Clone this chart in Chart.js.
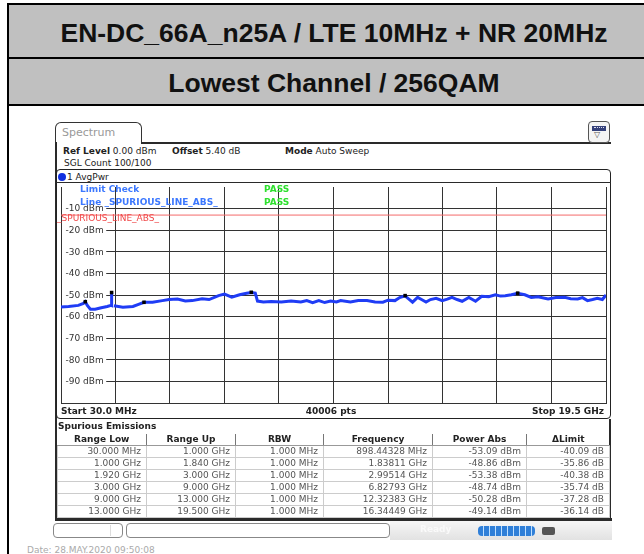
<!DOCTYPE html>
<html>
<head>
<meta charset="utf-8">
<script src="https://cdn.jsdelivr.net/npm/chart.js@4"></script>
<style>
  body { margin: 0; width: 644px; height: 554px; overflow: hidden; background: #fff; position: relative; font-family: "DejaVu Sans", sans-serif; }
  .a { position: absolute; white-space: nowrap; }
  .t9 { font-size: 9px; line-height: 11px; height: 11px; color: #222; }
  .b { font-weight: bold; }
  .band { left: 9px; width: 650px; background: #c0c0c0; text-align: center; font: bold 26.5px "Liberation Sans", Arial, sans-serif; color: #111; }
  .blk { background: #000; }
  .dk { background: #2a2a2a; }
  #plotFrame { left: 56px; top: 169px; width: 555px; height: 250px; box-sizing: border-box; border: 1.5px solid #222; border-radius: 4px; }
  #tab { left: 55px; top: 122px; width: 87px; height: 21px; box-sizing: border-box; border: 1.5px solid #333; border-bottom: none; border-radius: 6px 6px 0 0; font-size: 11px; line-height: 20px; color: #999; padding-left: 6px; }
  #icon { left: 588px; top: 121px; width: 22px; height: 22px; box-sizing: border-box; border: 1px solid #555; border-radius: 4px; background: #f4f4f4; }
  #chartBox { left: 57px; top: 183px; width: 553px; height: 224px; }
  table { position: absolute; left: 57px; top: 434px; width: 552px; border-collapse: collapse; table-layout: fixed; font-size: 9px; }
  th { height: 11px; padding: 0; line-height: 11px; color: #222; border-left: 1px solid #777; border-bottom: 1px solid #999; }
  th:first-child { border-left: none; }
  td { height: 11px; padding: 0 5px 0 0; line-height: 11px; text-align: right; color: #555; border: 1px solid #ccc; }
  .box { border: 1px solid #888; border-radius: 4px; background: #fff; box-sizing: border-box; }
</style>
</head>
<body>
<!-- report table frame -->
<div class="a blk" style="left:7px;top:3px;width:660px;height:2px"></div>
<div class="a blk" style="left:7px;top:3px;width:2px;height:551px"></div>
<div class="a band" style="top:5px;height:52px;line-height:56px">EN-DC_66A_n25A / LTE 10MHz + NR 20MHz</div>
<div class="a blk" style="left:9px;top:57px;width:660px;height:2px"></div>
<div class="a band" style="top:59px;height:45px;line-height:48px">Lowest Channel / 256QAM</div>
<div class="a blk" style="left:9px;top:104px;width:660px;height:2px"></div>

<!-- analyzer window -->
<div class="a" id="tab">Spectrum</div>
<div class="a dk" style="left:141px;top:142px;width:470px;height:1.5px"></div>
<div class="a dk" style="left:55px;top:142px;width:1.5px;height:378px"></div>
<div class="a" id="icon">
  <div class="a" style="left:3px;top:4px;width:14px;height:5px;background:#34407a"></div>
  <div class="a" style="left:5px;top:5px;width:10px;height:1px;border-top:1px dotted #dde"></div>
  <div class="a" style="left:5px;top:8px;font-size:8px;line-height:9px;color:#555">▽</div>
</div>
<div class="a t9" style="left:63px;top:146px"><span class="b">Ref Level</span> 0.00 dBm</div>
<div class="a t9" style="left:172px;top:146px"><span class="b">Offset</span> 5.40 dB</div>
<div class="a t9" style="left:285px;top:146px"><span class="b">Mode</span> Auto Sweep</div>
<div class="a t9" style="left:64px;top:158px">SGL Count 100/100</div>

<div class="a" id="plotFrame"></div>
<div class="a" style="left:58px;top:173px;width:8px;height:8px;border-radius:50%;background:#1030e0"></div>
<div class="a t9" style="left:67px;top:171.5px">1 AvgPwr</div>
<div class="a dk" style="left:56px;top:182px;width:555px;height:1px"></div>

<div class="a" id="chartBox"><canvas id="spec" width="553" height="224"></canvas></div>

<div class="a t9 b" style="left:80px;top:184px;color:#3c78ff">Limit Check</div>
<div class="a t9 b" style="left:80px;top:196.5px;color:#3c78ff">Line _SPURIOUS_LINE_ABS_</div>
<div class="a t9 b" style="left:264px;top:184px;color:#2ee02e">PASS</div>
<div class="a t9 b" style="left:264px;top:196.5px;color:#2ee02e">PASS</div>
<div class="a t9" style="left:57px;top:213px;color:#f04848">_SPURIOUS_LINE_ABS_</div>

<div class="a t9 b" style="left:61px;top:406px">Start 30.0 MHz</div>
<div class="a t9 b" style="left:231px;top:406px;width:200px;text-align:center">40006 pts</div>
<div class="a t9 b" style="left:404px;top:406px;width:200px;text-align:right">Stop 19.5 GHz</div>

<!-- spurious emissions table -->
<div class="a t9 b" style="left:58px;top:421px">Spurious Emissions</div>
<div class="a dk" style="left:55px;top:419px;width:2px;height:102px"></div>
<div class="a dk" style="left:609px;top:419px;width:1.5px;height:102px"></div>
<table id="tbl"></table>
<div class="a dk" style="left:55px;top:518px;width:557px;height:3px"></div>

<!-- status bar -->
<div class="a" style="left:390px;top:521px;width:222px;height:19px;background:linear-gradient(#f6f6f6,#e2e2e2)"></div>
<div class="a box" style="left:53px;top:523px;width:70px;height:15px"></div>
<div class="a" style="left:110px;top:525px;width:1px;height:11px;background:#ddd"></div>
<div class="a box" style="left:126px;top:523px;width:264px;height:15px"></div>
<div class="a t9 b" style="left:420px;top:524px;color:#fafafa">Ready</div>
<div class="a" style="left:478px;top:526px;width:57px;height:10px;border-radius:4px;background:repeating-linear-gradient(90deg,#2f7fd8 0 5px,#bfe0ff 5px 6px)"></div>
<div class="a" style="left:542px;top:527px;width:13px;height:8px;background:#555;border-radius:2px"></div>
<div class="a t9" style="left:27px;top:545px;color:#aaa">Date: 28.MAY.2020 09:50:08</div>

<script>
// sweep limits (GHz) and the y grid (dBm)
const startFreq = 0.03;
const stopFreq = 19.5;
const yTicks = [-90, -80, -70, -60, -50, -40, -30, -20, -10];
const limitLevel = -13;

// AvgPwr trace (GHz / dBm), null = excluded band 1.84-1.92 GHz
const traceFreq = [0.03, 0.30, 0.65, 0.83, 0.898, 0.97, 1.08, 1.25, 1.47, 1.68, 1.82, 1.838, 1.84, 1.88,
  1.92, 2.24, 2.60, 2.80, 2.995, 3.30, 3.65, 3.89, 4.19, 4.47, 4.72, 5.07, 5.32, 5.66, 5.87, 6.13, 6.41,
  6.66, 6.828, 6.97, 7.05, 7.26, 7.54, 7.90, 8.25, 8.60, 8.81, 9.02, 9.24, 9.45, 9.66, 9.87, 10.02, 10.37,
  10.65, 10.96, 11.25, 11.53, 11.71, 11.96, 12.13, 12.32, 12.48, 12.59, 12.77, 12.91, 13.07, 13.23, 13.43,
  13.65, 13.83, 14.00, 14.18, 14.36, 14.60, 14.84, 15.06, 15.31, 15.55, 15.73, 15.90, 16.12, 16.34, 16.60,
  16.83, 17.07, 17.43, 17.71, 18.02, 18.24, 18.49, 18.66, 18.84, 19.02, 19.19, 19.37, 19.50];
const traceLevel = [-55.6, -55.3, -54.8, -53.9, -53.1, -54.8, -56.6, -56.6, -55.9, -55.3, -54.8, -48.9, -54.9, null,
  -55.0, -55.7, -55.3, -54.3, -53.4, -53.4, -52.6, -52.1, -51.9, -52.8, -52.6, -51.7, -52.1, -50.3, -49.6, -51.0, -49.9,
  -49.2, -48.8, -49.1, -52.8, -53.2, -53.0, -53.2, -52.8, -53.2, -52.6, -53.5, -52.6, -53.5, -52.8, -53.2, -52.6, -53.2,
  -52.6, -52.6, -53.2, -53.3, -52.4, -52.6, -51.2, -50.4, -52.1, -53.3, -51.1, -52.1, -53.3, -52.1, -51.5,
  -52.6, -51.9, -51.1, -52.1, -52.9, -51.1, -52.9, -50.6, -50.8, -49.9, -50.5, -50.3, -49.9, -49.2, -49.9,
  -51.1, -50.8, -51.8, -51.2, -51.1, -51.7, -51.8, -51.2, -52.6, -52.1, -51.5, -52.1, -50.0];

// peak markers / result table
const rangeLow = ['30.000 MHz', '1.000 GHz', '1.920 GHz', '3.000 GHz', '9.000 GHz', '13.000 GHz'];
const rangeUp = ['1.000 GHz', '1.840 GHz', '3.000 GHz', '9.000 GHz', '13.000 GHz', '19.500 GHz'];
const rbw = ['1.000 MHz', '1.000 MHz', '1.000 MHz', '1.000 MHz', '1.000 MHz', '1.000 MHz'];
const peakFreqText = ['898.44328 MHz', '1.83811 GHz', '2.99514 GHz', '6.82793 GHz', '12.32383 GHz', '16.34449 GHz'];
const markerFreq = [0.89844328, 1.83811, 2.99514, 6.82793, 12.32383, 16.34449];
const markerLevel = [-53.09, -48.86, -53.38, -48.74, -50.28, -49.14];

document.getElementById('tbl').innerHTML =
  '<colgroup><col style="width:89px"><col style="width:89px"><col style="width:88px"><col style="width:109px"><col style="width:94px"><col style="width:83px"></colgroup>' +
  '<tr><th>Range Low</th><th>Range Up</th><th>RBW</th><th>Frequency</th><th>Power Abs</th><th>ΔLimit</th></tr>' +
  rangeLow.map((lo, i) => `<tr><td>${lo}</td><td>${rangeUp[i]}</td><td>${rbw[i]}</td><td>${peakFreqText[i]}</td>` +
    `<td>${markerLevel[i].toFixed(2)} dBm</td><td>${(markerLevel[i] - limitLevel).toFixed(2)} dB</td></tr>`).join('');

// y labels sit inside the grid with a white patch behind them
const dbmLabels = {
  id: 'dbmLabels',
  beforeDatasetsDraw(chart) {
    const { ctx, chartArea, scales: { y } } = chart;
    ctx.save();
    ctx.font = '9px "DejaVu Sans"';
    ctx.textBaseline = 'middle';
    yTicks.forEach(v => {
      const py = y.getPixelForValue(v);
      const txt = v + ' dBm';
      const w = ctx.measureText(txt).width;
      ctx.fillStyle = '#fff';
      ctx.fillRect(chartArea.left + 1, py - 5, w + 6, 10);
      ctx.fillStyle = '#333';
      ctx.fillText(txt, chartArea.left + 4.5, py + 0.5);
    });
    ctx.restore();
  }
};

const gridOpts = { color: '#333', lineWidth: 1, drawTicks: false };

new Chart(document.getElementById('spec'), {
  type: 'line',
  data: {
    datasets: [
      { type: 'scatter', data: markerFreq.map((f, i) => ({ x: f, y: markerLevel[i] })),
        pointStyle: 'rect', pointRadius: 2.5, backgroundColor: '#000', borderColor: '#000', borderWidth: 0 },
      { data: traceFreq.map((f, i) => ({ x: f, y: traceLevel[i] })),
        borderColor: '#1f3cf5', borderWidth: 3, pointRadius: 0, tension: 0, spanGaps: false },
      { data: [{ x: startFreq, y: limitLevel }, { x: stopFreq, y: limitLevel }],
        borderColor: '#f46a6a', borderWidth: 1, pointRadius: 0 },
    ]
  },
  options: {
    responsive: false,
    animation: false,
    layout: { padding: { right: 1, bottom: 1 } },
    plugins: { legend: { display: false }, tooltip: { enabled: false } },
    scales: {
      x: {
        type: 'linear', min: startFreq, max: stopFreq,
        afterBuildTicks: s => { s.ticks = Array.from({ length: 11 }, (_, k) => ({ value: startFreq + k * (stopFreq - startFreq) / 10 })); },
        ticks: { display: false }, grid: gridOpts, border: { color: '#333' }
      },
      y: {
        min: -100, max: 0,
        afterBuildTicks: s => { s.ticks = yTicks.map(v => ({ value: v })); },
        ticks: { display: false }, grid: gridOpts, border: { color: '#333' }
      }
    }
  },
  plugins: [dbmLabels]
});
</script>
</body>
</html>
